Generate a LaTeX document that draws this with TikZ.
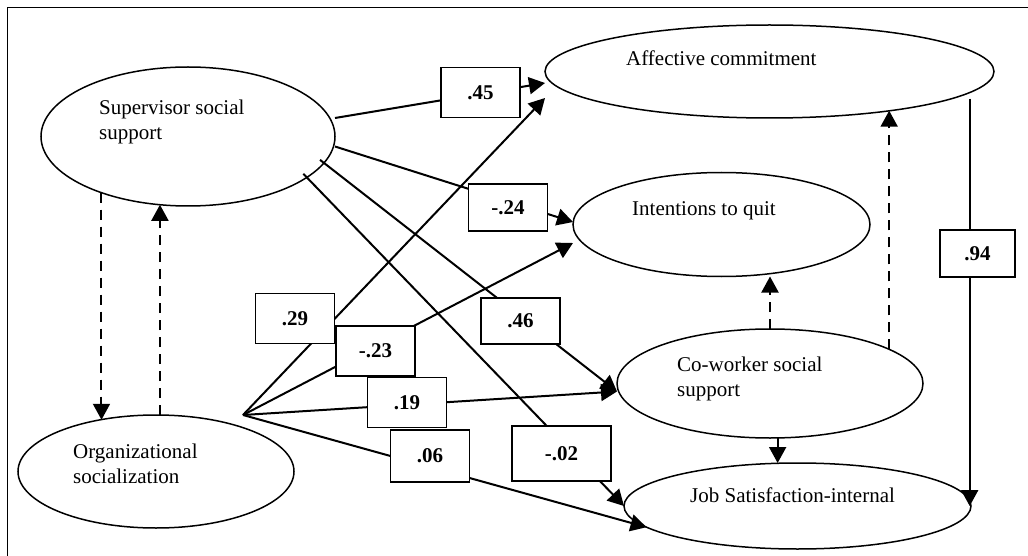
\documentclass[tikz,border=0pt]{standalone}
\usepackage{fontspec}
\setmainfont{Liberation Serif}
\usetikzlibrary{shapes,arrows.meta}

\begin{document}
\begin{tikzpicture}[x=1pt, y=-1pt, font=\fontsize{21}{25}\selectfont,
  latent/.style={ellipse, draw, line width=1.5pt, inner sep=0pt, outer sep=0pt},
  coef/.style={draw, fill=white, line width=1.8pt, inner sep=0pt, minimum width=79pt, minimum height=50pt, font=\fontsize{21}{25}\selectfont\bfseries},
  txt/.style={anchor=base west, inner sep=0pt, align=left},
  path line/.style={line width=2pt, -{Triangle[length=16pt,width=17pt]}},
  cov line/.style={path line, dash pattern=on 10pt off 7pt}]
\useasboundingbox (0,0) rectangle (1028,556);
\draw[line width=0.8pt] (7,556) -- (7,7) -- (1028,7);

% latent variables
\node[latent, minimum width=294pt, minimum height=139pt] (sup) at (188,136.5) {};
\node[latent, minimum width=276pt, minimum height=113pt] (org) at (156,471.5) {};
\node[latent, minimum width=449pt, minimum height=93pt] (aff) at (769.5,71.5) {};
\node[latent, minimum width=297pt, minimum height=104pt] (quit) at (721.5,224.5) {};
\node[latent, minimum width=306pt, minimum height=109pt] (cow) at (770,383.5) {};
\node[latent, minimum width=347pt, minimum height=86pt] (job) at (797.5,506) {};

\node[txt, anchor=north west] (sup text) at (99,100) {Supervisor social\\support};
\node[txt, anchor=north west] (org text) at (73,444) {Organizational\\socialization};
\node[txt] (aff text) at (626,66) {Affective commitment};
\node[txt] (quit text) at (632,216) {Intentions to quit};
\node[txt, anchor=north west] (cow text) at (677,357) {Co-worker social\\support};
\node[txt] (job text) at (690,502) {Job Satisfaction-internal};

\coordinate (fan) at (243,415);

% structural paths
\path[path line]
([yshift=18.5pt]sup.east) edge ([yshift=-11.5pt]aff.west)
([yshift=-10pt]sup.east) edge ([yshift=2.5pt]quit.west)
(sup.-11) edge[shorten <=-5pt] ([yshift=-8pt]cow.west)
(sup.-19) edge[shorten <=-5pt] (job.west)
(fan) edge ([yshift=-26.5pt]aff.west)
(fan) edge ([yshift=-18.5pt]quit.west)
(fan) edge ([yshift=-8pt]cow.west)
(fan) edge (job.188)
(aff.354) edge[shorten <=6pt] (aff.354 |- job.east);

% dashed links
\draw[cov line] (sup.213) -- (sup.213 |- org.137);
\draw[cov line] (org.86) -- (org.86 |- sup.248);
\draw[cov line] (cow.north) -- (cow.north |- quit.south);
\draw[cov line] (cow.16) -- (cow.16 |- aff.-18);
\draw[cov line] (cow.-82) -- (cow.-82 |- job.north);

% coefficients
\node[coef] (c45) at (480.5,92.5) {.45};
\node[coef, minimum height=47pt] (c24) at (508,207.5) {-.24};
\node[coef] (c29) at (295,318.5) {.29};
\node[coef] (c23) at (375.5,351) {-.23};
\node[coef] (c19) at (407,402.5) {.19};
\node[coef, minimum height=46pt] (c46) at (520.5,321) {.46};
\node[coef, minimum height=52pt] (c06) at (430,456) {.06};
\node[coef, minimum width=99pt, minimum height=55pt] (c02) at (561.5,453.5) {-.02};
\node[coef, minimum width=75pt, minimum height=47pt] (c94) at (977.5,253.5) {.94};
\end{tikzpicture}
\end{document}
